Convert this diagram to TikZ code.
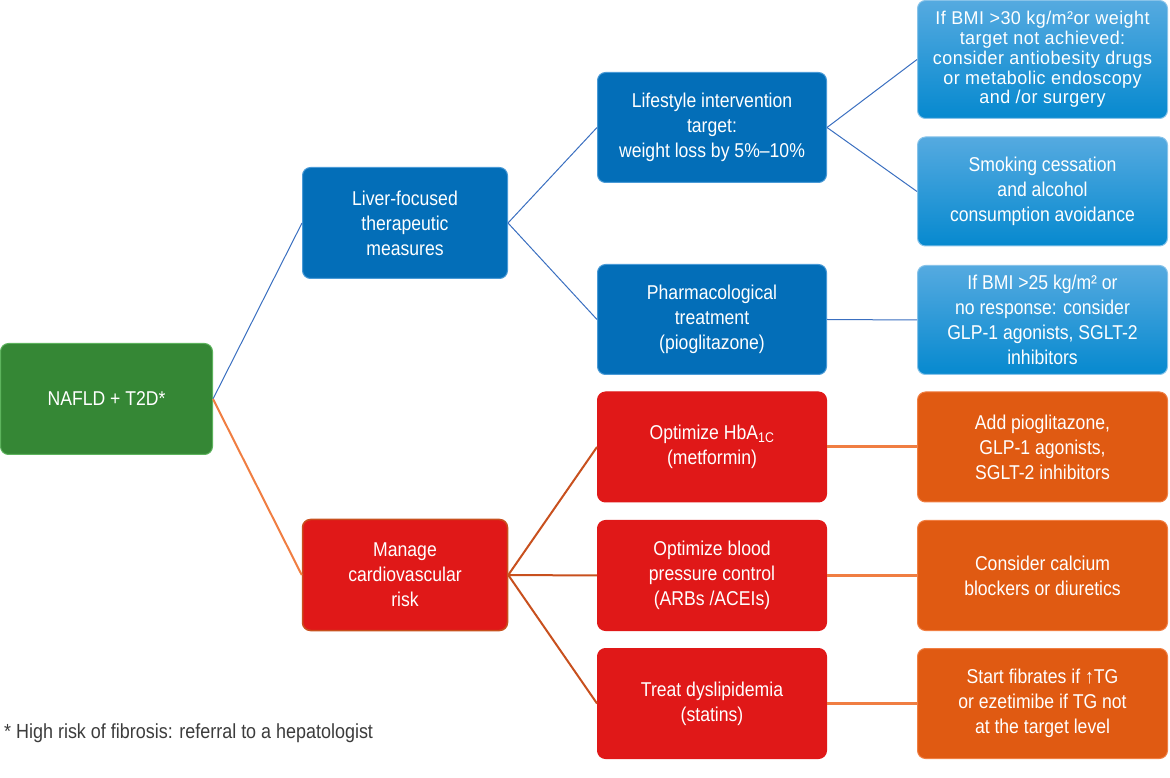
\documentclass[tikz,border=0pt]{standalone}
\usepackage{fontspec}
\setmainfont{Liberation Sans}[FakeStretch=0.88]
\newfontfamily\widesans{Liberation Sans}[FakeStretch=0.97, LetterSpace=2.5]
\usetikzlibrary{positioning}
\definecolor{leafgreen}{HTML}{358735}
\definecolor{leafedge}{HTML}{5DB35D}
\definecolor{deepblue}{HTML}{036EB8}
\definecolor{deepedge}{HTML}{4A9AD6}
\definecolor{skytop}{HTML}{55AAE0}
\definecolor{skybottom}{HTML}{0689CF}
\definecolor{alarm}{HTML}{E01818}
\definecolor{rust}{HTML}{C8501E}
\definecolor{amber}{HTML}{E05A12}
\definecolor{amberedge}{HTML}{F07E42}
\definecolor{linkblue}{HTML}{3A6FC0}
\definecolor{notegray}{HTML}{3C3C3C}

\begin{document}
\begin{tikzpicture}[x=1pt, y=1pt,
      box/.style={rounded corners=8pt, text=white, align=center,
        font=\fontsize{20}{25}\selectfont, line width=1pt, inner sep=2pt},
      rootbox/.style={box, draw=leafedge, fill=leafgreen,
        minimum width=212pt, minimum height=111pt},
      livbox/.style={box, draw=deepedge, fill=deepblue,
        minimum width=205pt, minimum height=111pt},
      cvbox/.style={box, draw=rust, line width=1.5pt, fill=alarm,
        minimum width=205pt, minimum height=111pt},
      bluebox/.style={box, draw=deepedge, fill=deepblue,
        minimum width=229pt, minimum height=110pt},
      redbox/.style={box, draw=alarm, fill=alarm,
        minimum width=229pt, minimum height=110pt},
      skybox/.style={box, draw=skytop!70!white, top color=skytop, bottom color=skybottom,
        minimum width=250pt, minimum height=109pt},
      amberbox/.style={box, draw=amberedge, fill=amber,
        minimum width=250pt, minimum height=110pt},
      bluelink/.style={linkblue, line width=1pt},
      rootlink/.style={amberedge, line width=2pt},
      cvlink/.style={rust, line width=2pt},
      feedlink/.style={amberedge, line width=3pt}]
    \useasboundingbox (0,0) rectangle (1170,777);
    % first two columns
    \node[rootbox] (root) at (106.5,378) {NAFLD + T2D*};
    \node[livbox] (liver) at (405,554) {Liver-focused\\therapeutic\\measures};
    \node[cvbox] (cardio) at (405,202) {Manage\\cardiovascular\\risk};
    % third column
    \node[bluebox] (lifestyle) at (712,649.5) {Lifestyle intervention\\target:\\weight loss by 5\%--10\%};
    \node[bluebox] (pharma) at (712,457.5) {Pharmacological\\treatment\\(pioglitazone)};
    \node[redbox] (glyc) at (712,330) {Optimize HbA\textsubscript{1C}\\(metformin)};
    \node[redbox] (pressure) at (712,201.5) {Optimize blood\\pressure control\\(ARBs /ACEIs)};
    \node[redbox] (lipid) at (712,73.5) {Treat dyslipidemia\\(statins)};
    % last column
    \node[skybox, minimum height=118pt, font=\widesans\fontsize{18.5}{19.8}\selectfont] (obesity) at (1042.5,717.5)
      {If BMI >30 kg/m²or weight\\target not achieved:\\consider antiobesity drugs\\or metabolic endoscopy\\and /or surgery};
    \node[skybox] (smoking) at (1042.5,585.5) {Smoking cessation\\and alcohol\\consumption avoidance};
    \node[skybox] (glp) at (1042.5,457) {If BMI >25 kg/m² or\\no response: consider\\GLP-1 agonists, SGLT-2\\inhibitors};
    \node[amberbox] (addon) at (1042.5,330) {Add pioglitazone,\\GLP-1 agonists,\\SGLT-2 inhibitors};
    \node[amberbox] (calcium) at (1042.5,201.5) {Consider calcium\\blockers or diuretics};
    \node[amberbox] (fibrate) at (1042.5,73.5) {Start fibrates if ↑TG\\or ezetimibe if TG not\\at the target level};
    % footnote
    \node[anchor=west, inner sep=0pt, text=notegray, font=\fontsize{20.4}{24}\selectfont] (note) at (4,44)
      {* High risk of fibrosis: referral to a hepatologist};
    % connectors
    \draw[bluelink] (root.east) -- (liver.west);
    \draw[rootlink] (root.east) -- (cardio.west);
    \draw[bluelink] (liver.east) -- (lifestyle.west);
    \draw[bluelink] (liver.east) -- (pharma.west);
    \draw[bluelink] (lifestyle.east) -- (obesity.west);
    \draw[bluelink] (lifestyle.east) -- (smoking.west);
    \draw[bluelink] (pharma.east) -- (glp.west);
    \draw[cvlink] (cardio.east) -- (glyc.west);
    \draw[cvlink] (cardio.east) -- (pressure.west);
    \draw[cvlink] (cardio.east) -- (lipid.west);
    \draw[feedlink] (glyc.east) -- (addon.west);
    \draw[feedlink] (pressure.east) -- (calcium.west);
    \draw[feedlink] (lipid.east) -- (fibrate.west);
  \end{tikzpicture}
\end{document}
